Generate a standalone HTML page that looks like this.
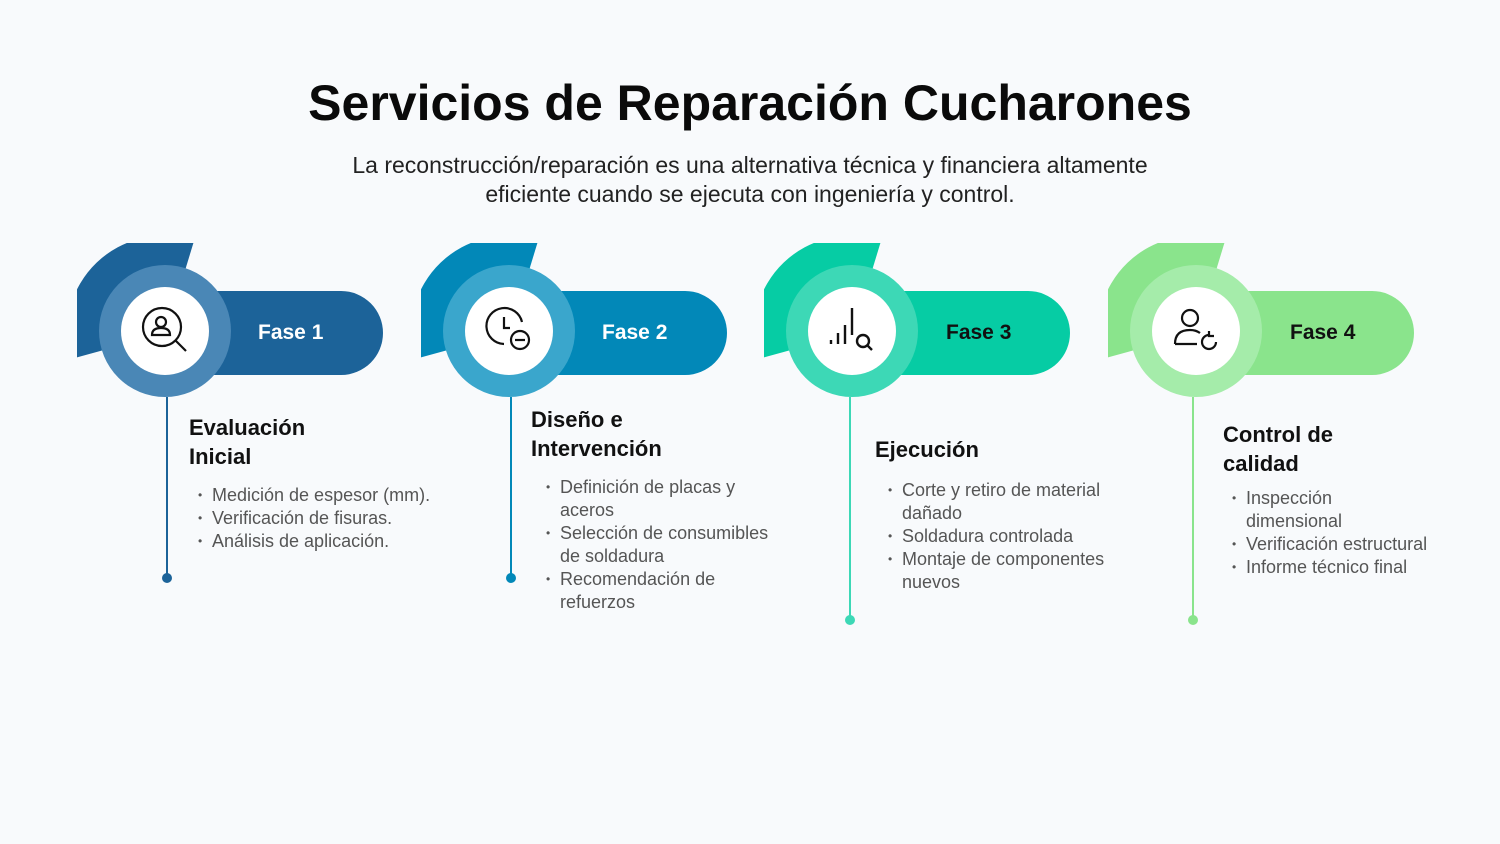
<!DOCTYPE html>
<html><head><meta charset="utf-8"><style>
body{margin:0;width:1500px;height:844px;background:#f8fafc;font-family:"Liberation Sans",sans-serif;position:relative;overflow:hidden}
h1{position:absolute;top:74px;left:0;width:1500px;text-align:center;margin:0;font-size:50px;font-weight:bold;color:#0a0a0a}
.sub{position:absolute;top:151px;left:0;width:1500px;text-align:center;font-size:23px;line-height:29px;color:#222}
.t{position:absolute;font-size:22px;font-weight:bold;line-height:29px;color:#111}
ul{position:absolute;margin:0;padding-left:22px;font-size:18px;line-height:23px;color:#555;list-style:none}
li{position:relative}
li:before{content:"•";position:absolute;left:-14px;font-size:12px}
</style></head><body>
<h1>Servicios de Reparación Cucharones</h1>
<div class="sub">La reconstrucción/reparación es una alternativa técnica y financiera altamente<br>eficiente cuando se ejecuta con ingeniería y control.</div>
<svg width="1500" height="844" style="position:absolute;left:0;top:0">
<defs>
<clipPath id="cp"><rect x="77" y="243" width="300" height="300"/></clipPath>
<path id="sec" d="M166,333 L194,241 A96 96 0 0 0 71,359 Z" clip-path="url(#cp)"/>
</defs>
<g font-family="Liberation Sans,sans-serif" font-weight="bold" font-size="21">
<g transform="translate(0,0)">
<use href="#sec" fill="#1c6399"/>
<path d="M200,291 H341 A42 42 0 0 1 341,375 H200 Z" fill="#1c6399"/>
<circle cx="165" cy="331" r="66" fill="#4a87b6"/><circle cx="165" cy="331" r="44" fill="#fff"/>
<line x1="167" y1="397" x2="167" y2="578" stroke="#1c6399" stroke-width="2"/><circle cx="167" cy="578" r="5" fill="#1c6399"/>
<text x="258" y="339" fill="#fff">Fase 1</text>
<g fill="none" stroke="#111" stroke-width="2.2"><circle cx="162" cy="327" r="19"/><circle cx="161" cy="322" r="5"/><path d="M152,335 q0,-7 9,-7 q9,0 9,7 z"/><path d="M175,340 L186,351"/></g>
</g>
<g transform="translate(344,0)">
<use href="#sec" fill="#0288b8"/>
<path d="M200,291 H341 A42 42 0 0 1 341,375 H200 Z" fill="#0288b8"/>
<circle cx="165" cy="331" r="66" fill="#3aa6cc"/><circle cx="165" cy="331" r="44" fill="#fff"/>
<line x1="167" y1="397" x2="167" y2="578" stroke="#0288b8" stroke-width="2"/><circle cx="167" cy="578" r="5" fill="#0288b8"/>
<text x="258" y="339" fill="#fff">Fase 2</text>
<g fill="none" stroke="#111" stroke-width="2.2"><path d="M178,322 A18 18 0 1 0 160,344"/><path d="M160,317 V328 H166"/><circle cx="176" cy="340" r="9"/><path d="M171,340 H181"/></g>
</g>
<g transform="translate(687,0)">
<use href="#sec" fill="#06cca4"/>
<path d="M200,291 H341 A42 42 0 0 1 341,375 H200 Z" fill="#06cca4"/>
<circle cx="165" cy="331" r="66" fill="#3dd8b6"/><circle cx="165" cy="331" r="44" fill="#fff"/>
<line x1="163" y1="397" x2="163" y2="620" stroke="#3dd8b6" stroke-width="2"/><circle cx="163" cy="620" r="5" fill="#3dd8b6"/>
<text x="259" y="339" fill="#111">Fase 3</text>
<g fill="none" stroke="#111" stroke-width="2.4"><path d="M144,340 v4 M151,333 v11 M158,325 v19 M165,308 v27"/><circle cx="176" cy="341" r="6"/><path d="M180,345 L185,350"/></g>
</g>
<g transform="translate(1031,0)">
<use href="#sec" fill="#8ae48c"/>
<path d="M200,291 H341 A42 42 0 0 1 341,375 H200 Z" fill="#8ae48c"/>
<circle cx="165" cy="331" r="66" fill="#a5ecaa"/><circle cx="165" cy="331" r="44" fill="#fff"/>
<line x1="162" y1="397" x2="162" y2="620" stroke="#8ae48c" stroke-width="2"/><circle cx="162" cy="620" r="5" fill="#8ae48c"/>
<text x="259" y="339" fill="#111">Fase 4</text>
<g fill="none" stroke="#111" stroke-width="2.2"><circle cx="159" cy="318" r="8"/><path d="M144,344 q0,-14 15,-14 q6,0 10,3 M144,344 H166"/><path d="M185,342 A7 7 0 1 1 178,335 M178,331 v5 h5"/></g>
</g>
</g></svg>
<div class="t" style="left:189px;top:413px">Evaluación<br>Inicial</div>
<ul style="left:190px;top:484px"><li>Medición de espesor (mm).</li><li>Verificación de fisuras.</li><li>Análisis de aplicación.</li></ul>
<div class="t" style="left:531px;top:405px">Diseño e<br>Intervención</div>
<ul style="left:538px;top:476px"><li>Definición de placas y<br>aceros</li><li>Selección de consumibles<br>de soldadura</li><li>Recomendación de<br>refuerzos</li></ul>
<div class="t" style="left:875px;top:435px">Ejecución</div>
<ul style="left:880px;top:479px"><li>Corte y retiro de material<br>dañado</li><li>Soldadura controlada</li><li>Montaje de componentes<br>nuevos</li></ul>
<div class="t" style="left:1223px;top:420px">Control de<br>calidad</div>
<ul style="left:1224px;top:487px"><li>Inspección<br>dimensional</li><li>Verificación estructural</li><li>Informe técnico final</li></ul>
</body></html>
